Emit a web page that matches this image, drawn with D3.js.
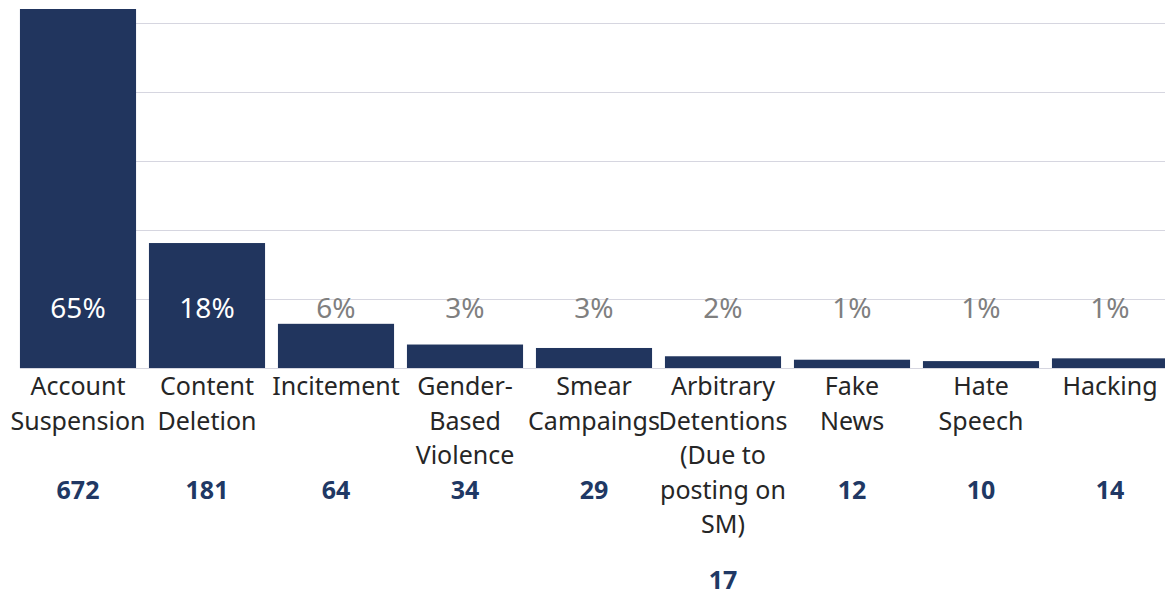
<!DOCTYPE html>
<html>
<head>
<meta charset="utf-8">
<script src="https://cdn.jsdelivr.net/npm/d3@7"></script>
<style>
  html, body { margin: 0; padding: 0; background: #fff; }
  svg { display: block; }
</style>
</head>
<body>
<svg id="chart" width="1165" height="596"></svg>
<script>
// ---- data ----
const categories = [
  "Account\nSuspension",
  "Content\nDeletion",
  "Incitement",
  "Gender-\nBased\nViolence",
  "Smear\nCampaings",
  "Arbitrary\nDetentions\n(Due to\nposting on\nSM)",
  "Fake\nNews",
  "Hate\nSpeech",
  "Hacking"
];
const counts = [672, 181, 64, 34, 29, 17, 12, 10, 14];
const percentLabels = ["65%", "18%", "6%", "3%", "3%", "2%", "1%", "1%", "1%"];
const gridTicks = [0, 100, 200, 300, 400, 500];

// ---- layout ----
const W = 1165, H = 596;
const baseY = 368, topY = 9;
const svg = d3.select("#chart");
svg.append("rect").attr("width", W).attr("height", H).attr("fill", "#fff");

const x = d3.scaleBand()
  .domain(d3.range(categories.length))
  .range([13.5, 13.5 + 129 * categories.length])
  .paddingInner(0.1)
  .paddingOuter(0.05);

const y = d3.scaleLinear().domain([0, 520]).range([baseY, topY]);

svg.append("defs").append("clipPath").attr("id", "plotclip")
  .append("rect").attr("x", 0).attr("y", topY).attr("width", W).attr("height", baseY - topY + 1);

// gridlines
svg.append("g").selectAll("line").data(gridTicks).join("line")
  .attr("x1", x(0)).attr("x2", W)
  .attr("y1", d => Math.round(y(d)) + 0.5)
  .attr("y2", d => Math.round(y(d)) + 0.5)
  .attr("stroke", "#d6d6e0").attr("stroke-width", 1);

// bars
svg.append("g").attr("clip-path", "url(#plotclip)")
  .selectAll("rect").data(counts).join("rect")
  .attr("x", (d, i) => x(i))
  .attr("width", x.bandwidth())
  .attr("y", d => y(d))
  .attr("height", d => baseY - y(d))
  .attr("fill", "#21355e");

// percent labels
const labelBase = 318;
svg.append("g").selectAll("text").data(percentLabels).join("text")
  .attr("x", (d, i) => x(i) + x.bandwidth() / 2)
  .attr("y", labelBase)
  .attr("text-anchor", "middle")
  .attr("font-family", "'Noto Sans', sans-serif")
  .attr("font-size", 28)
  .attr("fill", (d, i) => y(counts[i]) < labelBase - 30 ? "#ffffff" : "#7f7f7f")
  .text(d => d);

// category labels + counts
const lineH = 34.5, firstLine = 395;
const g = svg.append("g");
categories.forEach((c, i) => {
  const lines = c.split("\n");
  const cx = x(i) + x.bandwidth() / 2;
  const t = g.append("text")
    .attr("text-anchor", "middle")
    .attr("font-family", "'Noto Sans', sans-serif")
    .attr("font-size", 25)
    .attr("fill", "#262626");
  lines.forEach((ln, j) => {
    t.append("tspan").attr("x", cx).attr("y", firstLine + j * lineH).text(ln);
  });
  const lastY = firstLine + (lines.length - 1) * lineH;
  const countY = lines.length <= 3 ? firstLine + 3 * lineH : lastY + 56;
  g.append("text")
    .attr("x", cx).attr("y", countY)
    .attr("text-anchor", "middle")
    .attr("font-family", "'Noto Sans', sans-serif")
    .attr("font-weight", "bold")
    .attr("font-size", 25)
    .attr("fill", "#203864")
    .text(counts[i]);
});
</script>
</body>
</html>
